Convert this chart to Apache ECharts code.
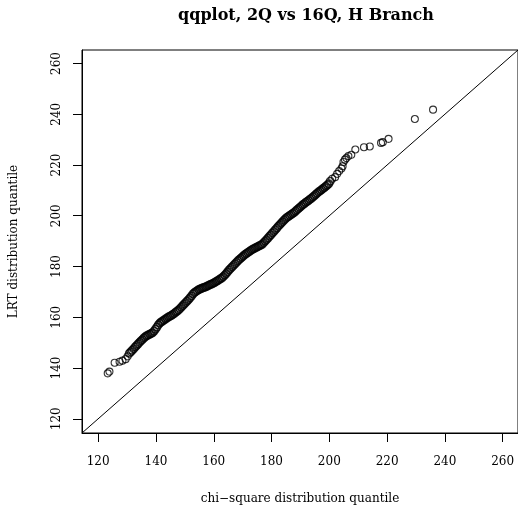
<!DOCTYPE html>
<html>
<head>
<meta charset="utf-8">
<script src="https://cdn.jsdelivr.net/npm/echarts@6/dist/echarts.min.js"></script>
<style>
html,body{margin:0;padding:0;background:#fff;}
#chart{width:518px;height:510px;}
</style>
</head>
<body>
<div id="chart"></div>
<script>
// chi-square quantiles (x) and LRT sample quantiles (y)
var qqX = [
123.3,123.9,125.7,127.4,128.4,129.5,130.2,
130.8,131.3,131.8,132.3,132.8,133.3,133.8,134.3,134.8,135.3,135.8,136.3,136.8,137.3,137.8,138.3,138.8,139.3,139.8,
140.3,140.8,141.3,141.8,142.3,142.8,143.3,143.8,144.3,144.8,145.3,145.8,146.3,146.8,147.3,147.8,148.3,148.8,149.3,149.8,
150.3,150.8,151.3,151.8,152.3,152.8,153.3,153.8,154.3,154.8,155.3,155.8,156.3,156.8,157.3,157.8,158.3,158.8,159.3,159.8,
160.3,160.8,161.3,161.8,162.3,162.8,163.3,163.8,164.3,164.8,165.3,165.8,166.3,166.8,167.3,167.8,168.3,168.8,169.3,169.8,
170.3,170.8,171.3,171.8,172.3,172.8,173.3,173.8,174.3,174.8,175.3,175.8,176.3,176.8,177.3,177.8,178.3,178.8,179.3,179.8,
180.3,180.8,181.3,181.8,182.3,182.8,183.3,183.8,184.3,184.8,185.3,185.8,186.3,186.8,187.3,187.8,188.3,188.8,189.3,189.8,
190.3,190.8,191.3,191.8,192.3,192.8,193.3,193.8,194.3,194.8,195.3,195.8,196.3,196.8,197.3,197.8,198.3,198.8,199.3,199.8,
200.3,201.0,202.0,202.7,203.4,204.2,204.6,204.9,205.4,205.9,206.6,207.6,209.0,212.0,214.0,217.9,218.5,220.5,229.6,235.9
];
var qqY = [
137.9,138.6,142.1,142.5,142.9,143.5,144.6,
145.8,146.4,147.0,147.6,148.3,148.9,149.5,150.1,150.7,151.2,151.8,152.3,152.7,153.0,153.3,153.6,153.9,154.5,155.3,
156.1,157.0,157.7,158.1,158.5,158.9,159.3,159.7,160.1,160.4,160.7,161.1,161.5,162.0,162.4,162.8,163.4,164.0,164.6,165.2,
165.8,166.4,167.0,167.7,168.4,169.2,169.7,170.1,170.5,170.9,171.1,171.4,171.6,171.8,172.0,172.3,172.6,172.9,173.1,173.4,
173.7,174.1,174.4,174.8,175.2,175.5,176.0,176.6,177.2,177.9,178.6,179.2,179.8,180.4,181.0,181.6,182.2,182.7,183.2,183.7,
184.2,184.7,185.1,185.5,185.9,186.3,186.7,187.0,187.3,187.6,187.9,188.2,188.5,188.8,189.4,190.0,190.6,191.2,191.9,192.5,
193.2,193.8,194.5,195.1,195.8,196.4,197.0,197.6,198.2,198.8,199.3,199.7,200.1,200.5,200.9,201.3,201.8,202.3,202.8,203.3,
203.8,204.3,204.7,205.2,205.6,206.0,206.5,206.9,207.4,207.9,208.4,208.9,209.4,209.8,210.2,210.7,211.1,211.6,212.1,212.6,
213.6,214.6,215.2,216.5,217.6,218.6,219.5,221.2,222.1,222.7,223.5,224.0,226.1,227.0,227.3,228.7,229.0,230.3,238.1,241.8
];
var tickValues = [120,140,160,180,200,220,240,260];
var axisMin = 114.4, axisMax = 265.3;
var refLine = [[114.4,114.4],[265.3,265.3]];
// x range where points are densely overplotted (drawn with heavier rings)
var denseRange = [130.5, 200.5];

var pts = qqX.map(function(x,i){
  var dense = x >= denseRange[0] && x <= denseRange[1];
  return {value:[x, qqY[i]], symbolSize: dense ? 7.5 : 7,
          itemStyle:{borderWidth: dense ? 1.6 : 1.1}};
});
var font = 'DejaVu Serif';
var chart = echarts.init(document.getElementById('chart'), null, {renderer:'canvas'});
chart.setOption({
  animation:false,
  backgroundColor:'#fff',
  title:{
    text:'qqplot, 2Q vs 16Q, H Branch',
    left:301, top:3, textAlign:'center',
    textStyle:{fontFamily:font, fontWeight:'bold', fontSize:16, color:'#000'}
  },
  grid:{left:82, top:50, width:438.4, height:384, show:true, borderColor:'#000', borderWidth:1, backgroundColor:'transparent'},
  xAxis:{
    type:'value', min:axisMin, max:axisMax,
    name:'chi\u2212square distribution quantile', nameLocation:'middle', nameGap:60,
    nameTextStyle:{fontFamily:font, fontSize:12, color:'#000'},
    axisLine:{show:true, lineStyle:{color:'#000', width:1}},
    axisTick:{show:true, length:9, customValues:tickValues, lineStyle:{color:'#000', width:1}},
    axisLabel:{show:true, customValues:tickValues, margin:23, fontFamily:font, fontSize:12, color:'#000'},
    splitLine:{show:false}
  },
  yAxis:{
    type:'value', min:axisMin, max:axisMax,
    name:'LRT distribution quantile', nameLocation:'middle', nameGap:62,
    nameTextStyle:{fontFamily:font, fontSize:12, color:'#000'},
    axisLine:{show:true, lineStyle:{color:'#000', width:1}},
    axisTick:{show:true, length:9, customValues:tickValues, lineStyle:{color:'#000', width:1}},
    axisLabel:{show:true, customValues:tickValues, rotate:90, margin:19, fontFamily:font, fontSize:12, color:'#000'},
    splitLine:{show:false}
  },
  series:[
    {type:'line', data:refLine, symbol:'none', lineStyle:{color:'#000', width:1}, clip:true, silent:true},
    {type:'scatter', data:pts, symbol:'circle',
     itemStyle:{color:'rgba(0,0,0,0)', borderColor:'#000'}, silent:true}
  ]
});
</script>
</body>
</html>
